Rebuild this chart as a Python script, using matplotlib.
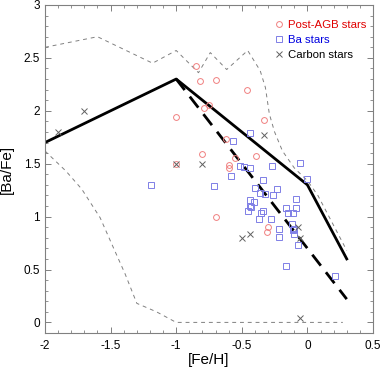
import matplotlib
matplotlib.use("Agg")
import matplotlib.pyplot as plt
from matplotlib.lines import Line2D
from matplotlib.ticker import MultipleLocator, FuncFormatter

plt.rcParams["font.family"] = ["Liberation Sans", "DejaVu Sans"]

# ========= data =========

postagb_feh = [-0.85, -0.82, -0.70, -0.46, -0.79, -0.75, -0.33, -0.62, -0.80,
               -0.55, -0.39, -0.60, -0.60, -1.00, -1.00, -0.70, -0.30, -0.31]
postagb_bafe = [2.42, 2.28, 2.29, 2.20, 2.03, 2.05, 1.91, 1.73, 1.59,
                1.55, 1.57, 1.49, 1.46, 1.94, 1.50, 1.00, 0.90, 0.85]

ba_feh = [-1.19, -0.44, -0.57, -0.51, -0.48, -0.44, -0.58, -0.71, -0.27, -0.06,
          0.00, -0.34, -0.40, -0.23, -0.36, -0.32, -0.26, -0.44, -0.41, -0.44,
          -0.45, -0.34, -0.35, -0.37, -0.28, -0.22, -0.22, -0.09, -0.16, -0.09,
          -0.15, -0.11, -0.12, -0.10, -0.11, -0.10, -0.07, -0.16, 0.21, -0.43]
ba_bafe = [1.30, 1.79, 1.71, 1.48, 1.47, 1.46, 1.38, 1.29, 1.48, 1.51,
           1.36, 1.35, 1.27, 1.26, 1.22, 1.21, 1.20, 1.16, 1.14, 1.10,
           1.05, 1.05, 1.03, 0.98, 0.98, 0.88, 0.81, 1.17, 1.08, 1.08,
           1.03, 1.03, 0.93, 0.88, 0.87, 0.84, 0.73, 0.53, 0.44, 1.09]

carbon_feh = [-1.90, -1.70, -1.00, -0.80, -0.33, -0.50, -0.44, -0.07, -0.06, -0.06]
carbon_bafe = [1.80, 2.00, 1.50, 1.50, 1.77, 0.80, 0.84, 0.90, 0.80, 0.04]

# model tracks
solid_feh = [-2.0, -1.0, 0.0, 0.3]
solid_bafe = [1.70, 2.30, 1.30, 0.60]

dashed_feh = [-1.0, 0.3]
dashed_bafe = [2.30, 0.22]

# envelope of the models
upper_feh = [-2.0, -1.6, -1.18, -1.0, -0.83, -0.74, -0.615, -0.455, -0.36,
             -0.32, -0.29, -0.25, -0.19, -0.1, 0.0, 0.08, 0.3]
upper_bafe = [2.60, 2.70, 2.45, 2.57, 2.36, 2.55, 2.39, 2.57, 2.38,
              2.22, 1.97, 1.80, 1.62, 1.46, 1.34, 1.20, 0.68]

lower_feh = [-2.0, -1.84, -1.72, -1.58, -1.48, -1.39, -1.30, -1.15, -1.0, 0.27]
lower_bafe = [1.62, 1.43, 1.26, 0.99, 0.71, 0.46, 0.18, 0.10, 0.0, 0.0]

labels = ["Post-AGB stars", "Ba stars", "Carbon stars"]
label_colors = ["#e00000", "#0000e0", "black"]


# ========= plot =========

fig = plt.figure(figsize=(3.82, 3.69), dpi=100)
ax = fig.add_axes([0.1178, 0.0976, 0.8586, 0.8889])

env_kw = dict(color="#808080", lw=0.7, linestyle=(0, (4, 4)))
ax.plot(upper_feh, upper_bafe, **env_kw)
ax.plot(lower_feh, lower_bafe, **env_kw)

ax.plot(solid_feh, solid_bafe, color="black", lw=2.0)
ax.plot(dashed_feh, dashed_bafe, color="black", lw=2.0, linestyle=(0, (5, 3)))

circ_kw = dict(marker="o", ls="none", ms=4.2, mfc="none", mec="#f08080", mew=0.7)
sq_kw = dict(marker="s", ls="none", ms=4.2, mfc="none", mec="#7f7fe6", mew=0.7)
x_kw = dict(marker="x", ls="none", ms=4.2, color="#606060", mew=0.7)

ax.plot(postagb_feh, postagb_bafe, **circ_kw)
ax.plot(ba_feh, ba_bafe, **sq_kw)
ax.plot(carbon_feh, carbon_bafe, **x_kw)

ax.set_xlim(-2, 0.5)
ax.set_ylim(-0.1, 3)
ax.xaxis.set_major_locator(MultipleLocator(0.5))
ax.xaxis.set_minor_locator(MultipleLocator(0.1))
ax.yaxis.set_major_locator(MultipleLocator(0.5))
ax.yaxis.set_minor_locator(MultipleLocator(0.1))
ax.tick_params(which="both", direction="in", top=True, right=True,
               color="#808080", labelsize=8.5)
ax.tick_params(which="major", length=4, width=0.7)
ax.tick_params(which="minor", length=2.5, width=0.6)
ax.tick_params(axis="x", pad=5)
for sp in ax.spines.values():
    sp.set_color("#808080")
    sp.set_linewidth(0.8)

fmt = FuncFormatter(lambda v, pos: "%g" % v)
ax.xaxis.set_major_formatter(fmt)
ax.yaxis.set_major_formatter(fmt)

ax.set_xlabel("[Fe/H]", fontsize=11, labelpad=1)
ax.set_ylabel("[Ba/Fe]", fontsize=11, labelpad=7)

handles = [Line2D([], [], **circ_kw), Line2D([], [], **sq_kw), Line2D([], [], **x_kw)]
leg = ax.legend(handles, labels,
                loc="upper left", bbox_to_anchor=(0.695, 0.955), frameon=False,
                fontsize=8.2, handlelength=1.0, handletextpad=0.35,
                labelspacing=0.45, borderpad=0, borderaxespad=0)
for txt, col in zip(leg.get_texts(), label_colors):
    txt.set_color(col)

fig.savefig("out.png", dpi=100)
